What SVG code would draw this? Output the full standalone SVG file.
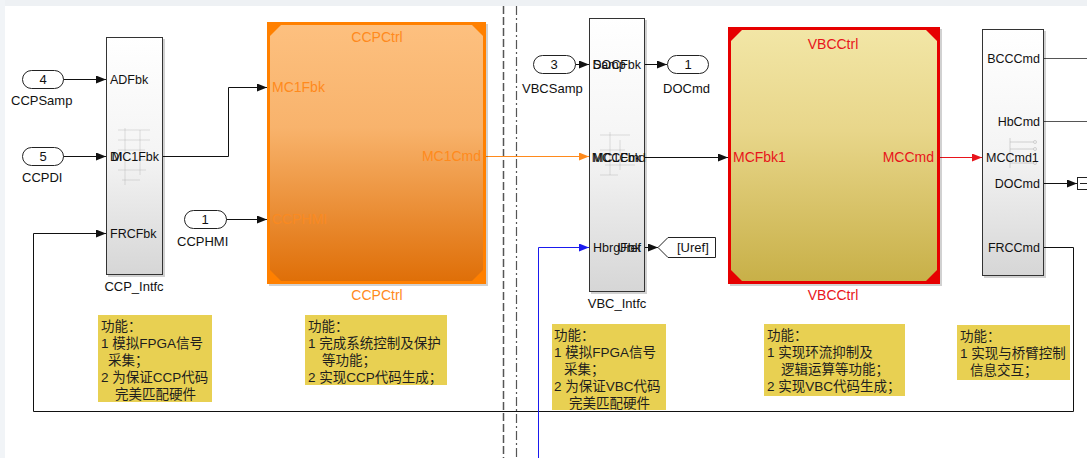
<svg xmlns="http://www.w3.org/2000/svg" width="1087" height="458" viewBox="0 0 1087 458">
<style>
text{font-family:"Liberation Sans",Arial,"Noto Sans CJK SC",sans-serif;}
.pl{font-size:12.5px;fill:#111;}
.lb{font-size:13px;fill:#111;}
.num{font-size:13px;fill:#111;text-anchor:middle;}
.or{fill:#ff8a1c;font-size:14px;}
.rd{fill:#e8141b;font-size:14px;}
.cn{font-family:"Liberation Sans","Noto Sans CJK SC",sans-serif;font-size:13.5px;fill:#1e1e1e;}
.w{fill:none;stroke:#111;stroke-width:1;}
.port{fill:#fff;stroke:#222;stroke-width:1;}
.intf{fill:url(#gInt);stroke:#333;stroke-width:1;}
.note{fill:#e8d052;}
.shadow{fill:#000;opacity:0.18;}
</style>
<defs>
<linearGradient id="gInt" x1="0" y1="0" x2="0" y2="1"><stop offset="0" stop-color="#ffffff"/><stop offset="0.5" stop-color="#f4f4f4"/><stop offset="1" stop-color="#d6d6d6"/></linearGradient>
<linearGradient id="gOr" x1="0" y1="0" x2="0" y2="1"><stop offset="0" stop-color="#fdc07f"/><stop offset="0.4" stop-color="#f8b36c"/><stop offset="1" stop-color="#df6f08"/></linearGradient>
<linearGradient id="gYe" x1="0" y1="0" x2="0" y2="1"><stop offset="0" stop-color="#f2e6a6"/><stop offset="0.4" stop-color="#e8d68a"/><stop offset="1" stop-color="#c8b048"/></linearGradient>
<marker id="aK" markerUnits="userSpaceOnUse" markerWidth="10" markerHeight="8" refX="10" refY="4" orient="auto"><path d="M0,0 L10,4 L0,8 z" fill="#111"/></marker>
<marker id="aO" markerUnits="userSpaceOnUse" markerWidth="10" markerHeight="8" refX="10" refY="4" orient="auto"><path d="M0,0 L10,4 L0,8 z" fill="#ff8a1c"/></marker>
<marker id="aR" markerUnits="userSpaceOnUse" markerWidth="10" markerHeight="8" refX="10" refY="4" orient="auto"><path d="M0,0 L10,4 L0,8 z" fill="#e8141b"/></marker>
<marker id="aB" markerUnits="userSpaceOnUse" markerWidth="10" markerHeight="8" refX="10" refY="4" orient="auto"><path d="M0,0 L10,4 L0,8 z" fill="#1a1aee"/></marker>
</defs>
<rect width="1087" height="458" fill="#ffffff"/>
<rect width="1087" height="6" fill="#eef1f4"/>
<rect width="5" height="458" fill="#f1f4f7"/>

<g id="dividers">
<line x1="503.5" y1="6" x2="503.5" y2="458" stroke="#555" stroke-width="1.5" stroke-dasharray="8,3"/>
<line x1="516.5" y1="6" x2="516.5" y2="458" stroke="#555" stroke-width="1.2" stroke-dasharray="9,3,2,3"/>
</g>

<g id="connectors">
<line class="w" x1="63" y1="79.5" x2="106" y2="79.5" marker-end="url(#aK)"/>
<line class="w" x1="63" y1="156.5" x2="106" y2="156.5" marker-end="url(#aK)"/>
<polyline class="w" stroke="#333" points="1044,247.5 1073.5,247.5 1073.5,411.5 33.5,411.5 33.5,233.5 106,233.5" marker-end="url(#aK)"/>
<polyline class="w" points="163,156.5 228.5,156.5 228.5,87.5 267,87.5" marker-end="url(#aK)"/>
<line class="w" x1="226" y1="219.5" x2="267" y2="219.5" marker-end="url(#aK)"/>
<line x1="486" y1="156.5" x2="589" y2="156.5" stroke="#ff8a1c" stroke-width="1" marker-end="url(#aO)"/>
<line class="w" x1="575" y1="64.5" x2="589" y2="64.5" marker-end="url(#aK)"/>
<line class="w" x1="645" y1="64.5" x2="667" y2="64.5" marker-end="url(#aK)"/>
<line class="w" x1="645" y1="157.5" x2="728" y2="157.5" marker-end="url(#aK)"/>
<polyline points="538.5,458 538.5,247.5 589,247.5" fill="none" stroke="#1a1aee" stroke-width="1" marker-end="url(#aB)"/>
<line class="w" x1="645" y1="247.5" x2="658" y2="247.5" marker-end="url(#aK)"/>
<line x1="940" y1="157.5" x2="982" y2="157.5" stroke="#e8141b" stroke-width="1" marker-end="url(#aR)"/>
<line x1="1044" y1="58.5" x2="1087" y2="58.5" stroke="#555" stroke-width="1"/>
<line x1="1044" y1="121.5" x2="1087" y2="121.5" stroke="#555" stroke-width="1"/>
<line class="w" x1="1044" y1="183.5" x2="1077" y2="183.5" marker-end="url(#aK)"/>
</g>

<g id="in_CCPSamp"><rect class="port" x="22.5" y="70.5" width="41" height="18" rx="9"/><text class="num" x="43" y="84">4</text><text class="lb" x="11" y="105">CCPSamp</text></g>
<g id="in_CCPDI"><rect class="port" x="22.5" y="147.5" width="41" height="18" rx="9"/><text class="num" x="43" y="161">5</text><text class="lb" x="22" y="182">CCPDI</text></g>
<g id="in_CCPHMI"><rect class="port" x="184.5" y="210.5" width="42" height="18" rx="9"/><text class="num" x="205" y="224">1</text><text class="lb" x="177" y="246">CCPHMI</text></g>
<g id="in_VBCSamp"><rect class="port" x="533.5" y="55.5" width="42" height="18" rx="9"/><text class="num" x="554" y="69">3</text><text class="lb" x="522" y="93">VBCSamp</text></g>
<g id="out_DOCmd"><rect class="port" x="667.5" y="55.5" width="41" height="18" rx="9"/><text class="num" x="688" y="69">1</text><text class="lb" x="663" y="93">DOCmd</text></g>
<g id="goto_Uref"><polygon class="port" points="658,247.5 668,237.5 715.5,237.5 715.5,257.5 668,257.5"/><text class="lb" x="677" y="252">[Uref]</text></g>
<g id="term_DOC"><path d="M1077.5,177 V190 M1077.5,177.5 H1087 M1077.5,189.5 H1087 M1080,183.5 H1087" stroke="#222" stroke-width="1" fill="none"/></g>

<g id="CCP_Intfc">
<rect class="shadow" x="108" y="39" width="57" height="238"/>
<rect class="intf" x="106.5" y="37.5" width="56" height="237"/>
<g stroke="#999" stroke-width="0.6" fill="none" opacity="0.5">
<path d="M118,130 H150 M118,140 H150 M125,128 V185 M140,130 V175 M118,150 H145 M130,160 H150 M118,170 H146 M122,180 H140"/>
</g>
<text class="pl" x="110" y="84">ADFbk</text>
<text class="pl" x="110" y="161">DI</text>
<text class="pl" x="159" y="161" text-anchor="end">MC1Fbk</text>
<text class="pl" x="110" y="238">FRCFbk</text>
<text class="lb" x="134" y="291" text-anchor="middle">CCP_Intfc</text>
</g>

<g id="CCPCtrl">
<rect class="shadow" x="269" y="24" width="219" height="262"/>
<rect x="267" y="22" width="219" height="262" fill="#ff8000"/>
<polygon points="281,25 472,25 483,36 483,270 472,281 281,281 270,270 270,36" fill="url(#gOr)"/>
<text class="or" x="377" y="42" text-anchor="middle">CCPCtrl</text>
<text class="or" x="272" y="92">MC1Fbk</text>
<text class="or" x="272" y="224" fill-opacity="0.75">CCPHMI</text>
<text class="or" x="481" y="161" text-anchor="end">MC1Cmd</text>
<text class="or" x="377" y="300" text-anchor="middle">CCPCtrl</text>
</g>

<g id="VBC_Intfc">
<rect class="shadow" x="591" y="20" width="56" height="274"/>
<rect class="intf" x="589.5" y="18.5" width="55" height="273"/>
<g stroke="#999" stroke-width="0.6" fill="none" opacity="0.5">
<path d="M600,135 H630 M610,132 V175 M600,150 H625 M605,165 H635 M620,140 V170 M600,175 H618"/>
</g>
<text class="pl" x="593" y="69">Samp</text>
<text class="pl" x="641" y="69" text-anchor="end">DOCFbk</text>
<text class="pl" x="593" y="162">MC1Cmd</text>
<text class="pl" x="641" y="162" text-anchor="end">MCCFbk</text>
<text class="pl" x="593" y="252">HbrgFbk</text>
<text class="pl" x="641" y="252" text-anchor="end">Uref</text>
<text class="lb" x="617" y="308" text-anchor="middle">VBC_Intfc</text>
</g>

<g id="VBCCtrl">
<rect class="shadow" x="730" y="29" width="212" height="257"/>
<rect x="728" y="27" width="212" height="257" fill="#e60000"/>
<polygon points="742,30 926,30 937,41 937,270 926,281 742,281 731,270 731,41" fill="url(#gYe)"/>
<text class="rd" x="833" y="49" text-anchor="middle">VBCCtrl</text>
<text class="rd" x="733" y="162">MCFbk1</text>
<text class="rd" x="934" y="162" text-anchor="end">MCCmd</text>
<text class="rd" x="833" y="300" text-anchor="middle">VBCCtrl</text>
</g>

<g id="HB_Intfc">
<rect class="shadow" x="984" y="31" width="62" height="247"/>
<rect class="intf" x="982.5" y="29.5" width="61" height="246"/>
<g stroke="#aaa" stroke-width="0.8" fill="none" opacity="0.6">
<path d="M1010,138 V168 M1010,142 H1034 M1010,149 H1034 M1010,163 H1034"/>
<circle cx="1035" cy="142" r="1.5"/><circle cx="1035" cy="149" r="1.5"/><circle cx="1035" cy="163" r="1.5"/>
</g>
<text class="pl" x="1040" y="63" text-anchor="end">BCCCmd</text>
<text class="pl" x="1040" y="126" text-anchor="end">HbCmd</text>
<text class="pl" x="986" y="162">MCCmd1</text>
<text class="pl" x="1040" y="188" text-anchor="end">DOCmd</text>
<text class="pl" x="1040" y="252" text-anchor="end">FRCCmd</text>
</g>

<g id="note1">
<rect class="note" x="98" y="315" width="114" height="87"/>
<text class="cn" x="101" y="331">功能：</text>
<text class="cn" x="101" y="348">1 模拟FPGA信号</text>
<text class="cn" x="108" y="365">采集；</text>
<text class="cn" x="101" y="382">2 为保证CCP代码</text>
<text class="cn" x="115" y="399">完美匹配硬件</text>
</g>
<g id="note2">
<rect class="note" x="305" y="315" width="142" height="70"/>
<text class="cn" x="308" y="331">功能：</text>
<text class="cn" x="308" y="348">1 完成系统控制及保护</text>
<text class="cn" x="322" y="365">等功能；</text>
<text class="cn" x="308" y="382">2 实现CCP代码生成；</text>
</g>
<g id="note3">
<rect class="note" x="552" y="324" width="114" height="86"/>
<text class="cn" x="554" y="340">功能：</text>
<text class="cn" x="554" y="357">1 模拟FPGA信号</text>
<text class="cn" x="564" y="374">采集；</text>
<text class="cn" x="554" y="391">2 为保证VBC代码</text>
<text class="cn" x="569" y="408">完美匹配硬件</text>
</g>
<g id="note4">
<rect class="note" x="764" y="324" width="141" height="72"/>
<text class="cn" x="767" y="340">功能：</text>
<text class="cn" x="767" y="357">1 实现环流抑制及</text>
<text class="cn" x="781" y="374">逻辑运算等功能；</text>
<text class="cn" x="767" y="391">2 实现VBC代码生成；</text>
</g>
<g id="note5">
<rect class="note" x="957" y="325" width="113" height="55"/>
<text class="cn" x="960" y="341">功能：</text>
<text class="cn" x="960" y="358">1 实现与桥臂控制</text>
<text class="cn" x="970" y="375">信息交互；</text>
</g>
</svg>
